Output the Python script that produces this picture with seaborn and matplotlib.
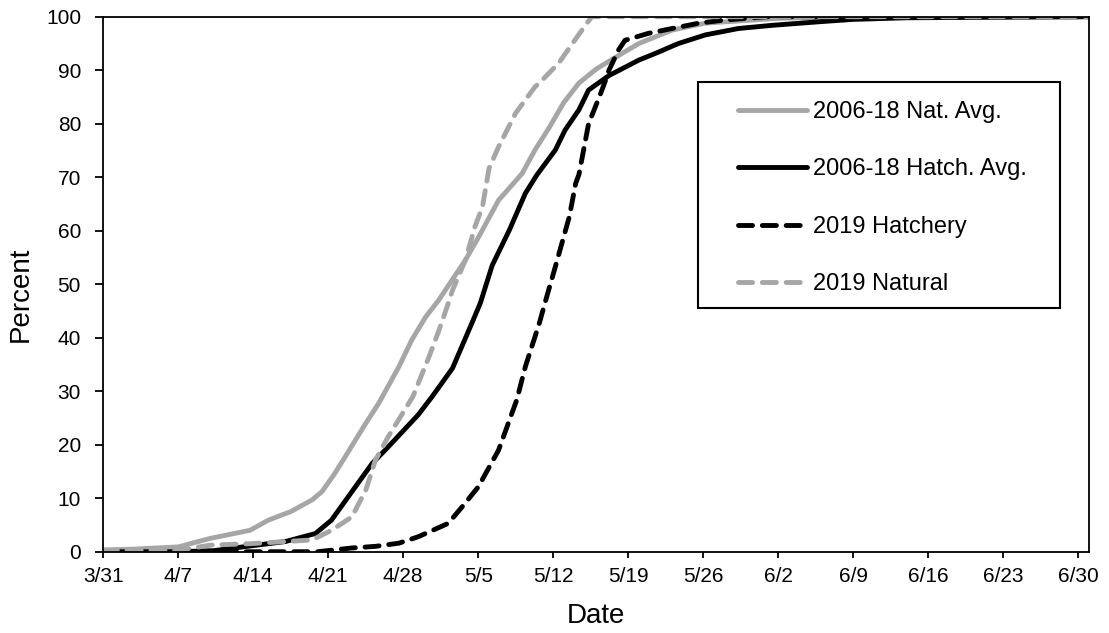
import pandas as pd
import matplotlib
matplotlib.use("Agg")
import matplotlib.pyplot as plt
from matplotlib.patches import Rectangle
import seaborn as sns

# Days after 3/31 and cumulative percent
nat_avg_days = [0, 3, 7, 10, 13.7, 15.4, 17.5, 19.5, 20.4, 21.5, 22.6, 24.5, 25.7, 27.6, 28.8,
                30.1, 31.3, 33.8, 35, 36.9, 39.1, 40.3, 41.6, 43, 44.4, 46, 47.8, 50, 53.1,
                56.2, 60, 63, 70, 92]
nat_avg_pct = [0.3, 0.5, 0.9, 2.5, 4.0, 5.9, 7.5, 9.7, 11.2, 14.3, 17.8, 24, 27.7, 34.6, 39.6,
               43.9, 47, 54.5, 58.7, 65.7, 70.7, 75.1, 79.2, 84.0, 87.6, 90.2, 92.4, 95, 97.5,
               98.8, 99.3, 99.7, 100, 100]

hatch_avg_days = [0, 7, 10.3, 14.2, 17, 19.8, 21.3, 23.2, 25.1, 26.6, 29.4, 30.7, 32.6, 34.4,
                  35.2, 36.3, 37.9, 39.4, 40.5, 42.2, 43.1, 44.4, 45.3, 47.2, 50, 51.6, 53.7,
                  56.2, 59.3, 62.5, 67.1, 70, 75, 92]
hatch_avg_pct = [0, 0, 0.2, 1.2, 1.9, 3.4, 5.9, 11.2, 16.5, 19.6, 25.6, 29, 34.3, 42.7,
                 46.5, 53.5, 60.1, 67, 70.5, 75.1, 78.8, 82.6, 86.3, 89.0, 91.9, 93.2, 95,
                 96.6, 97.8, 98.4, 99.1, 99.5, 99.8, 100]

hatch_2019_days = [0, 20, 23.2, 25.4, 27.6, 29.4, 32.2, 33.5, 35, 36.9, 38.6, 39.4, 40.7, 41.3,
                   42.2, 42.8, 43.5, 44.1, 44.4, 45.3, 46.3, 46.9, 47.2, 48.1, 48.7, 50.9,
                   53.1, 55.6, 58.1, 62, 92]
hatch_2019_pct = [0, 0, 0.7, 1.0, 1.6, 2.8, 5.3, 8.4, 12.1, 19, 28.4, 34.6, 42.7, 47,
                  53.3, 57.6, 62.6, 68.9, 70.5, 80, 85, 88.2, 90, 93.8, 95.6, 96.9,
                  97.8, 98.8, 99.4, 100, 100]

nat_2019_days = [0, 7, 10.1, 13.7, 19.5, 21.3, 23.2, 24.5, 25.4, 26.6, 28.9, 30.4, 31.3, 32.2,
                 32.6, 33.8, 34.7, 35.4, 36, 36.9, 38.5, 40.3, 40.7, 42.5, 43.8, 45, 45.6, 92]
nat_2019_pct = [0.3, 0.3, 1.25, 1.5, 2.2, 4, 6.5, 11.5, 17.1, 21.5, 29, 36.4, 41.2, 46.4,
                48.9, 54.5, 60.8, 64.5, 71.6, 75.7, 82, 86.9, 87.6, 91.3, 95, 98.4, 100, 100]

tick_days = [0, 7, 14, 21, 28, 35, 42, 49, 56, 63, 70, 77, 84, 91]
tick_labels = ["3/31", "4/7", "4/14", "4/21", "4/28", "5/5", "5/12", "5/19", "5/26",
               "6/2", "6/9", "6/16", "6/23", "6/30"]

GRAY = "#A6A6A6"

sns.set_style("ticks")
plt.rcParams["font.family"] = ["Liberation Sans", "DejaVu Sans"]
plt.rcParams["lines.solid_capstyle"] = "round"
plt.rcParams["lines.dash_capstyle"] = "round"
for key in ["text.color", "axes.labelcolor", "xtick.color", "ytick.color"]:
    plt.rcParams[key] = "black"

series = [
    ("2006-18 Nat. Avg.", nat_avg_days, nat_avg_pct, GRAY, None),
    ("2006-18 Hatch. Avg.", hatch_avg_days, hatch_avg_pct, "black", None),
    ("2019 Hatchery", hatch_2019_days, hatch_2019_pct, "black", (2.9, 2.0)),
    ("2019 Natural", nat_2019_days, nat_2019_pct, GRAY, (2.9, 2.0)),
]

fig = plt.figure(figsize=(11.09, 6.33), dpi=100)
ax = fig.add_axes([0.0931, 0.1284, 0.8888, 0.8452])

for name, days, pct, color, dash in series:
    df = pd.DataFrame({"day": days, "pct": pct})
    line_kw = {"dashes": dash} if dash else {}
    sns.lineplot(data=df, x="day", y="pct", ax=ax, color=color, lw=3.5,
                 estimator=None, sort=False, label=name, **line_kw)

ax.set_xlim(0, 92)
ax.set_ylim(0, 100)
ax.set_xticks(tick_days)
ax.set_xticklabels(tick_labels)
ax.set_yticks(range(0, 101, 10))
ax.tick_params(axis="x", direction="out", length=4, width=1.3, pad=7, labelsize=15)
ax.tick_params(axis="y", direction="out", length=6, width=1.3, pad=10, labelsize=15)

for sp in ax.spines.values():
    sp.set_visible(True)
    sp.set_linewidth(1.3)
    sp.set_color("black")

ax.set_xlabel("Date", fontsize=20)
ax.set_ylabel("Percent", fontsize=20)
ax.xaxis.set_label_coords(0.5, -0.095)
ax.yaxis.set_label_coords(-0.071, 0.482)

leg = ax.legend(loc="upper left", bbox_to_anchor=(0.618, 0.891), frameon=False,
                fontsize=17, handlelength=2.9, handletextpad=0.25,
                labelspacing=1.5, borderpad=0.6)
ax.add_patch(Rectangle((0.603, 0.4555), 0.368, 0.423, transform=ax.transAxes,
                       fill=False, ec="black", lw=1.5, zorder=5))

fig.savefig("out.png", dpi=100)
